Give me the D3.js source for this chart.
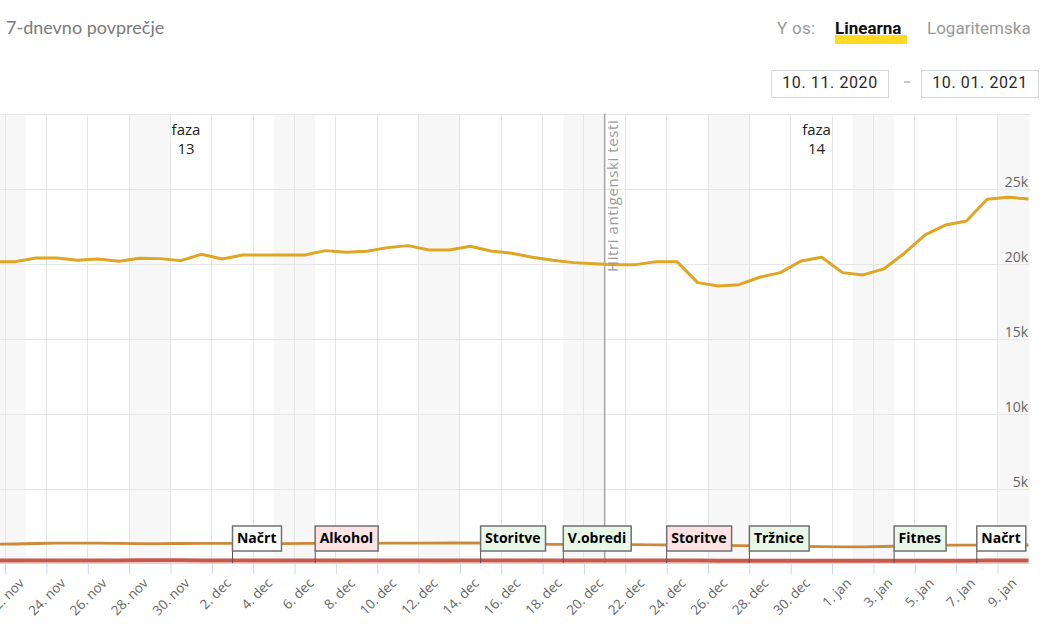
<!DOCTYPE html>
<html><head><meta charset="utf-8">
<script src="https://cdn.jsdelivr.net/npm/d3@7"></script>
<style>
html,body{margin:0;padding:0;background:#fff;overflow:hidden}
svg{display:block}
</style></head><body>
<svg id="c" width="1060" height="636"></svg>
<script>
// ---------- DATA ----------
const firstDay = "2020-11-21";           // first (partly) visible daily value
const activeCases = [20180,20180,20427,20427,20274,20361,20207,20407,20381,20247,
  20674,20361,20628,20628,20628,20628,20915,20808,20875,21115,
  21249,20961,20961,21208,20895,20742,20474,20274,20114,20047,
  19980,19980,20180,20180,18779,18558,18645,19139,19446,20227,
  20474,19446,19293,19693,20742,21963,22630,22897,24346,24480,24366];
const hospitalized = [1315,1335,1368,1389,1389,1389,1382,1362,1355,1368,
  1382,1382,1382,1368,1362,1382,1382,1382,1382,1389,
  1389,1389,1402,1402,1389,1368,1335,1315,1315,1308,
  1302,1295,1282,1268,1255,1242,1228,1215,1188,1175,
  1155,1148,1148,1168,1202,1235,1255,1255,1255,1268,1268];
const icu = [235,236,238,238,240,241,240,242,243,242,
  241,240,240,239,238,238,237,236,236,235,
  234,233,233,232,232,231,230,229,229,228,
  228,227,227,226,226,225,225,225,224,224,
  224,223,223,223,224,224,225,225,226,226,227];
const yTicks = [5000,10000,15000,20000,25000];
const firstTick = "2020-11-22";
const monthNames = ["jan","feb","mar","apr","maj","jun","jul","avg","sep","okt","nov","dec"];
const phaseStarts = ["2020-11-10 12","2020-12-21 00"];
const phaseEnds   = ["2020-12-21 00","2021-01-10 12"];
const phaseLabels = ["13","14"];
const markerDate = "2020-12-21";
const markerLabel = "Hitri antigenski testi";
const flagDates  = ["2020-12-03","2020-12-07","2020-12-15","2020-12-19","2020-12-24","2020-12-28","2021-01-04","2021-01-08"];
const flagLabels = ["Načrt","Alkohol","Storitve","V.obredi","Storitve","Tržnice","Fitnes","Načrt"];
const flagKinds  = ["plan","restrict","relax","relax","restrict","relax","relax","plan"];

// ---------- SETUP ----------
const parseDay = d3.timeParse("%Y-%m-%d");
const parseDH = d3.timeParse("%Y-%m-%d %H");
const svg = d3.select("#c");
const plotRight = 1029.5, plotTop = 113.5, plotBottom = 564;

const x = d3.scaleTime()
  .domain([new Date(2020,10,10,12), new Date(2021,0,10,12)])
  .range([-232.7, 1028.5]);
const y = d3.scaleLinear().domain([0,30000]).range([564,114.5]);

const day0 = parseDay(firstDay);
const noon = i => { const d = d3.timeDay.offset(day0, i); d.setHours(12); return d; };

svg.append("defs").append("clipPath").attr("id","clip")
  .append("rect").attr("x",0).attr("y",plotTop-1).attr("width",plotRight).attr("height",plotBottom-plotTop+1);
const plot = svg.append("g").attr("clip-path","url(#clip)");

// weekend bands
const sats = d3.timeSaturday.range(new Date(2020,10,7), new Date(2021,0,11));
plot.selectAll("rect.we").data(sats).join("rect").attr("class","we")
  .attr("x", d=>x(d)).attr("width", d=>x(d3.timeDay.offset(d,2))-x(d))
  .attr("y", plotTop).attr("height", plotBottom-plotTop).attr("fill","#f7f7f7");

// grid
const tickDates = d3.timeDay.range(parseDay(firstTick), new Date(2021,0,11), 2);
plot.selectAll("line.vg").data(tickDates).join("line").attr("class","vg")
  .attr("x1",d=>x(d)).attr("x2",d=>x(d)).attr("y1",plotTop).attr("y2",plotBottom)
  .attr("stroke","#e6e6e6").attr("stroke-width",1).attr("shape-rendering","crispEdges");
plot.selectAll("line.hg").data([5000,10000,15000,20000,25000,30000]).join("line").attr("class","hg")
  .attr("x1",0).attr("x2",plotRight).attr("y1",d=>y(d)).attr("y2",d=>y(d))
  .attr("stroke","#e6e6e6").attr("stroke-width",1).attr("shape-rendering","crispEdges");

// plot line marker
const mx = x(parseDay(markerDate));
plot.append("line").attr("x1",mx).attr("x2",mx).attr("y1",plotTop).attr("y2",plotBottom)
  .attr("stroke","#a6a6a6").attr("stroke-width",1.5);
svg.append("text").attr("transform",`translate(${mx+13.5},272) rotate(-90)`)
  .attr("font-family","'Open Sans', sans-serif").attr("font-size",15).attr("letter-spacing",0.6)
  .attr("fill","#9a9a9a").text(markerLabel);

// phase labels
phaseLabels.forEach((lab,i)=>{
  const cx = (x(parseDH(phaseStarts[i])) + x(parseDH(phaseEnds[i])))/2;
  const t = svg.append("text").attr("text-anchor","middle")
    .attr("font-family","'Open Sans', sans-serif").attr("font-size",15).attr("fill","#222");
  t.append("tspan").attr("x",cx).attr("y",134.5).text("faza");
  t.append("tspan").attr("x",cx).attr("y",153.5).text(lab);
});

// lines
const mk = arr => arr.map((v,i)=>({d:noon(i), v}));
const line = d3.line().x(p=>x(p.d)).y(p=>y(p.v));
plot.append("path").datum(mk(icu)).attr("d",line).attr("fill","none")
  .attr("stroke","#c9584b").attr("stroke-width",4);
plot.append("path").datum(mk(hospitalized)).attr("d",line).attr("fill","none")
  .attr("stroke","#cc8a38").attr("stroke-width",2.8);
plot.append("path").datum(mk(activeCases)).attr("d",line).attr("fill","none")
  .attr("stroke","#dfa524").attr("stroke-width",3).attr("stroke-linejoin","round");

// x axis
const fmt = d => d.getDate() + ". " + monthNames[d.getMonth()];
const xAxis = d3.axisBottom(x).tickValues(tickDates).tickFormat(fmt).tickSize(10).tickSizeOuter(0);
const gx = svg.append("g").attr("transform",`translate(0,${plotBottom})`).call(xAxis);
gx.select(".domain").remove();
gx.selectAll(".tick line").attr("stroke","#ccd6eb");
gx.selectAll(".tick text").attr("x",0).attr("y",0).attr("dy",0)
  .attr("text-anchor","end").attr("transform","translate(19.5,20) rotate(-45)")
  .attr("font-family","'Open Sans', sans-serif").attr("font-size",13.5).attr("fill","#666");
svg.append("line").attr("x1",0).attr("x2",plotRight).attr("y1",plotBottom-0.5).attr("y2",plotBottom-0.5)
  .attr("stroke","#ccd6eb").attr("stroke-width",1);

// y axis (right, labels inside)
const yAxis = d3.axisRight(y).tickValues(yTicks).tickSize(0).tickFormat(d=>d/1000+"k");
const gy = svg.append("g").attr("transform",`translate(1028,0)`).call(yAxis);
gy.select(".domain").remove();
gy.selectAll(".tick text").attr("x",0).attr("dy",-2.5).attr("text-anchor","end")
  .attr("font-family","'Open Sans', sans-serif").attr("font-size",14).attr("fill","#666");

// flags
const flagFill = {plan:"#ffffff", restrict:"#fde3e3", relax:"#e8f7e8"};
flagDates.forEach((ds,i)=>{
  const fx = x(parseDay(ds));
  const g = svg.append("g");
  g.append("line").attr("x1",fx).attr("x2",fx).attr("y1",551).attr("y2",563)
    .attr("stroke","#555").attr("stroke-width",1);
  const rect = g.append("rect").attr("x",fx).attr("y",526).attr("height",25)
    .attr("fill",flagFill[flagKinds[i]]).attr("stroke","#707070").attr("stroke-width",1.5);
  const t = g.append("text").attr("x",fx+4.5).attr("y",543.3)
    .attr("font-family","'Open Sans', sans-serif").attr("font-weight","bold")
    .attr("font-size",14).attr("fill","#000").text(flagLabels[i]);
  rect.attr("width", t.node().getComputedTextLength()+9.5);
});

// header
svg.append("text").attr("x",6).attr("y",34).attr("font-family","Lato, sans-serif")
  .attr("font-size",18).attr("fill","#7a7a7a").text("7-dnevno povprečje");
svg.append("text").attr("x",777).attr("y",33.5).attr("font-family","Roboto, sans-serif")
  .attr("font-size",17).attr("letter-spacing",0.3).attr("fill","#999").text("Y os:");
svg.append("rect").attr("x",835).attr("y",35).attr("width",72).attr("height",9).attr("fill","#ffd922");
svg.append("text").attr("x",835).attr("y",33.5).attr("font-family","Roboto, sans-serif")
  .attr("font-size",17).attr("font-weight","bold").attr("fill","#111").text("Linearna");
svg.append("text").attr("x",927).attr("y",33.5).attr("font-family","Roboto, sans-serif")
  .attr("font-size",17).attr("fill","#999").text("Logaritemska");

[[771.5,"10. 11. 2020"],[921.5,"10. 01. 2021"]].forEach(([bx,txt])=>{
  svg.append("rect").attr("x",bx).attr("y",70.5).attr("width",117).attr("height",27)
    .attr("fill","#fff").attr("stroke","#d3d6da").attr("stroke-width",1);
  svg.append("text").attr("x",bx+58.5).attr("y",88).attr("text-anchor","middle")
    .attr("font-family","Roboto, sans-serif").attr("font-size",16).attr("letter-spacing",0.6)
    .attr("fill","#2a2a2a").text(txt);
});
svg.append("line").attr("x1",904).attr("x2",910).attr("y1",82).attr("y2",82).attr("stroke","#888");
</script>
</body></html>
